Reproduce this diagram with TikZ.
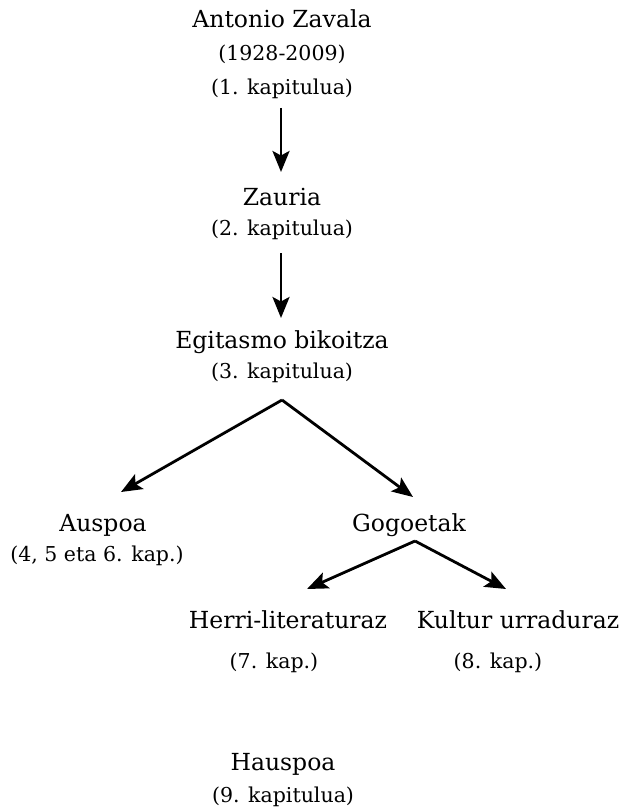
\documentclass[tikz,border=0pt]{standalone}
\usepackage{fontspec}
\setmainfont{DejaVu Serif}
\usetikzlibrary{arrows.meta}
\begin{document}
\begin{tikzpicture}[x=1pt,y=-1pt,
  main/.style={inner sep=0pt,anchor=base,font=\fontsize{23.5}{26}\selectfont},
  sub/.style={inner sep=0pt,anchor=base,font=\fontsize{20.5}{23}\selectfont},
  arr/.style={line width=2.8pt,-{Stealth[length=21pt,width=17pt,inset=4.5pt]}}]
\useasboundingbox (0,0) rectangle (626,810);
\node[main] (a1) at (282,28) {Antonio Zavala};
\node[sub] (a2) at (282,61) {(1928-2009)};
\node[sub] (a3) at (282,95) {(1. kapitulua)};
\node[main] (z1) at (282,206) {Zauria};
\node[sub] (z2) at (282,236) {(2. kapitulua)};
\node[main] (e1) at (282,348) {Egitasmo bikoitza};
\node[sub] (e2) at (282,378) {(3. kapitulua)};
\node[main] (au1) at (103,531) {Auspoa};
\node[sub] (au2) at (97,561) {(4, 5 eta 6. kap.)};
\node[main] (g1) at (409,531) {Gogoetak};
\node[main] (h1) at (288,628) {Herri-literaturaz};
\node[sub] (h2) at (274,668) {(7. kap.)};
\node[main] (k1) at (518,628) {Kultur urraduraz};
\node[sub] (k2) at (498,668) {(8. kap.)};
\node[main] (hs1) at (283,770) {Hauspoa};
\node[sub] (hs2) at (283,802) {(9. kapitulua)};
\coordinate (p1) at (281,108);
\coordinate (p2) at (281,172);
\coordinate (p3) at (281,253);
\coordinate (p4) at (281,318);
\coordinate (ap) at (282,400);
\coordinate (lt) at (121,492);
\coordinate (rt) at (413,497);
\coordinate (gap) at (415,541);
\coordinate (glt) at (307,589);
\coordinate (grt) at (506,589);
\draw[arr] (p1) -- (p2);
\draw[arr] (p3) -- (p4);
\draw[arr] (ap) -- (lt);
\draw[arr] (ap) -- (rt);
\draw[arr] (gap) -- (glt);
\draw[arr] (gap) -- (grt);
\end{tikzpicture}
\end{document}
